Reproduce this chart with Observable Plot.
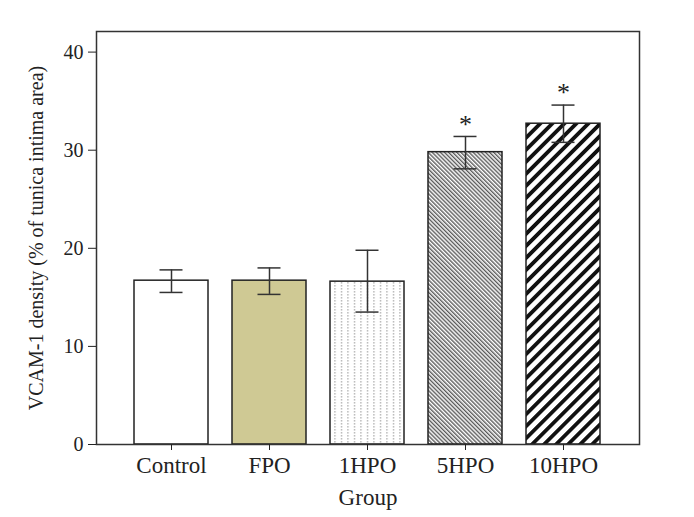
<!DOCTYPE html>
<html><head><meta charset="utf-8">
<script src="https://cdn.jsdelivr.net/npm/d3@7"></script>
<script src="https://cdn.jsdelivr.net/npm/@observablehq/plot@0.6"></script>
<style>
body{margin:0;background:#fff}
#chart svg{font-family:"Liberation Serif","DejaVu Serif",serif;color:#222}
</style>
</head><body><div id="chart"></div>
<script>
const groups = ["Control", "FPO", "1HPO", "5HPO", "10HPO"];
const means = [16.7, 16.7, 16.6, 29.8, 32.7];
const errLow = [15.5, 15.3, 13.5, 28.1, 30.8];
const errHigh = [17.8, 18.0, 19.8, 31.4, 34.6];
const significant = ["", "", "", "*", "*"];
const yTicks = [0, 10, 20, 30, 40];

const fillStyle = {
  "Control": "#ffffff",
  "FPO": "#cfc994",
  "1HPO": "url(#pat-1hpo)",
  "5HPO": "url(#pat-5hpo)",
  "10HPO": "url(#pat-10hpo)"
};

const data = groups.map((g, i) => ({group: g, mean: means[i], lo: errLow[i], hi: errHigh[i], star: significant[i]}));

function patterns() {
  const ns = "http://www.w3.org/2000/svg";
  const g = document.createElementNS(ns, "g");
  g.innerHTML = `<defs>
    <pattern id="pat-1hpo" patternUnits="userSpaceOnUse" width="6.5" height="3">
      <rect width="6.5" height="3" fill="#fff"/>
      <rect x="3" y="0" width="1" height="1.6" fill="#9a9a9a"/>
    </pattern>
    <pattern id="pat-5hpo" patternUnits="userSpaceOnUse" width="2.9" height="10" patternTransform="rotate(-45)">
      <rect width="2.9" height="10" fill="#fff"/>
      <rect x="0" width="1.4" height="10" fill="#5a5a5a"/>
    </pattern>
    <pattern id="pat-10hpo" patternUnits="userSpaceOnUse" width="8.5" height="10" patternTransform="rotate(45)">
      <rect width="8.5" height="10" fill="#fff"/>
      <rect x="0" width="3.8" height="10" fill="#111"/>
    </pattern>
  </defs>`;
  return g;
}

const chart = Plot.plot({
  width: 694,
  height: 517,
  marginLeft: 96,
  marginRight: 55,
  marginTop: 31,
  marginBottom: 73,
  style: {fontSize: "20px", fontFamily: "'Liberation Serif', serif", color: "#222"},
  x: {domain: groups, paddingInner: 0.24, paddingOuter: 0.38},
  y: {domain: [0, 42.1]},
  color: {type: "identity"},
  marks: [
    patterns,
    Plot.barY(data, {x: "group", y: "mean", fill: d => fillStyle[d.group], stroke: "#222", strokeWidth: 1.5}),
    Plot.ruleX(data, {x: "group", y1: "lo", y2: "hi", stroke: "#333", strokeWidth: 1.5}),
    Plot.tickY(data, {x: "group", y: "lo", insetLeft: 25.5, insetRight: 25.5, stroke: "#333", strokeWidth: 1.5}),
    Plot.tickY(data, {x: "group", y: "hi", insetLeft: 25.5, insetRight: 25.5, stroke: "#333", strokeWidth: 1.5}),
    Plot.text(data, {x: "group", y: "hi", text: "star", dy: -12, fontSize: 26, fill: "#222"}),
    Plot.frame({stroke: "#333", strokeWidth: 1.5}),
    Plot.axisY({ticks: yTicks, tickSize: 8, tickPadding: 5, label: "VCAM-1 density (% of tunica intima area)", labelAnchor: "center", labelArrow: "none", labelOffset: 68}),
    Plot.axisX({tickSize: 6, tickPadding: 6, fontSize: 23, label: "Group", labelAnchor: "center", labelArrow: "none", labelOffset: 60})
  ]
});
document.getElementById("chart").appendChild(chart);
</script>
</body></html>
